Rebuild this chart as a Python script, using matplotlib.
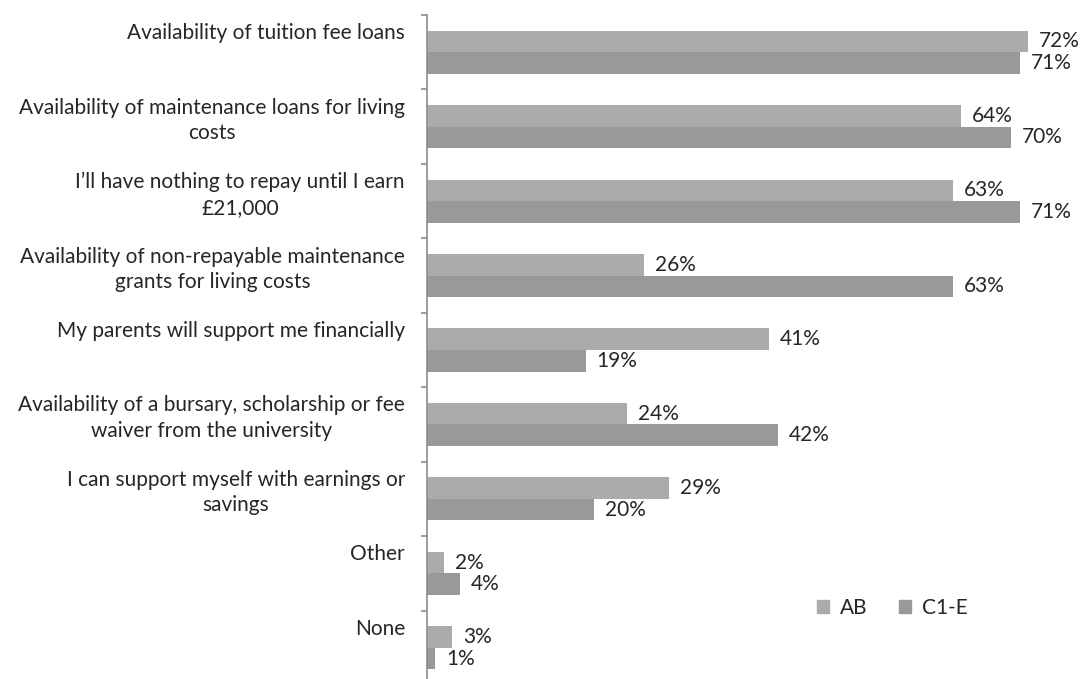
import matplotlib.pyplot as plt
from matplotlib.patches import Patch

# Survey data
categories = [
    "Availability of tuition fee loans",
    "Availability of maintenance loans for living\ncosts",
    "I\u2019ll have nothing to repay until I earn\n\u00a321,000",
    "Availability of non-repayable maintenance\ngrants for living costs",
    "My parents will support me financially",
    "Availability of a bursary, scholarship or fee\nwaiver from the university",
    "I can support myself with earnings or\nsavings",
    "Other",
    "None",
]
ab = [72, 64, 63, 26, 41, 24, 29, 2, 3]
c1e = [71, 70, 71, 63, 19, 42, 20, 4, 1]

col_ab = "#ababab"
col_c1e = "#999999"
txt = "#262626"
font = "Lato"
fs = 15

fig = plt.figure(figsize=(10.84, 6.79), dpi=100)
ax = fig.add_axes([427 / 1084, -6 / 679, 657 / 1084, 670 / 679])

h = 0.29
ys = list(range(len(categories)))
ax.barh([y - h / 2 for y in ys], ab, height=h, color=col_ab)
ax.barh([y + h / 2 for y in ys], c1e, height=h, color=col_c1e)

ax.set_xlim(0, 78.7)
ax.set_ylim(len(categories) - 0.5, -0.5)

for sp in ["top", "right", "bottom"]:
    ax.spines[sp].set_visible(False)
ax.spines["left"].set_color("#8c8c8c")
ax.spines["left"].set_linewidth(1.2)
ax.set_xticks([])
ax.set_yticks([])
ax.set_yticks([y - 0.5 for y in range(len(categories) + 1)], minor=True)
ax.tick_params(axis="y", which="minor", direction="out", length=4,
               color="#8c8c8c", width=1.2, labelleft=False)

# category labels, top aligned within each band
for y, name in zip(ys, categories):
    ax.text(-0.0335, y - 0.39, name, transform=ax.get_yaxis_transform(),
            ha="right", va="top", multialignment="center",
            fontsize=fs, family=font, color=txt, linespacing=1.35)

# value labels
for y, a, c in zip(ys, ab, c1e):
    ax.text(a + 1.3, y - h / 2, f"{a}%", va="center", ha="left",
            fontsize=fs, family=font, color=txt)
    ax.text(c + 1.3, y + h / 2, f"{c}%", va="center", ha="left",
            fontsize=fs, family=font, color=txt)

handles = [Patch(color=col_ab, label="AB"), Patch(color=col_c1e, label="C1-E")]
fig.legend(handles=handles, loc="center", bbox_to_anchor=(0.823, 0.105),
           ncol=2, frameon=False, handlelength=0.6, handleheight=0.6,
           handletextpad=0.5, columnspacing=1.5,
           prop={"family": font, "size": fs})
for t in fig.legends[0].get_texts():
    t.set_color(txt)

fig.savefig("out.png", dpi=100, facecolor="white")
